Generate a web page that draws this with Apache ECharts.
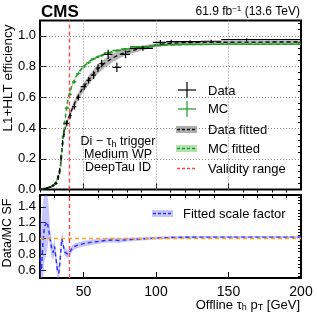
<!DOCTYPE html>
<html><head><meta charset="utf-8">
<script src="https://cdn.jsdelivr.net/npm/echarts@6/dist/echarts.min.js"></script>
<style>html,body{margin:0;padding:0;background:#fff}#c{width:317px;height:317px}</style>
</head><body><div id="c"></div>
<script>
// ---- data ----
const fitX = [20,22,24,26,28,30,31,32,33,34,35,36,37,38,39,40,42,44,46,48,50,55,60,65,70,75,80,90,100,110,120,140,160,180,200];
const dataFit = [0.0,0.003,0.006,0.012,0.02,0.035,0.05,0.07,0.1,0.15,0.25,0.34,0.39,0.42,0.45,0.475,0.52,0.565,0.6,0.635,0.665,0.73,0.785,0.825,0.855,0.88,0.895,0.92,0.94,0.952,0.956,0.958,0.959,0.96,0.96];
const dataFitErr = [0.002,0.002,0.003,0.004,0.005,0.006,0.007,0.008,0.01,0.012,0.015,0.015,0.015,0.015,0.016,0.017,0.018,0.02,0.024,0.027,0.028,0.03,0.03,0.03,0.027,0.024,0.02,0.015,0.012,0.009,0.008,0.007,0.007,0.007,0.007];
const mcFit = [0.0,0.004,0.007,0.013,0.02,0.032,0.042,0.06,0.085,0.13,0.22,0.34,0.43,0.51,0.57,0.615,0.675,0.72,0.752,0.778,0.8,0.84,0.865,0.883,0.897,0.907,0.915,0.927,0.936,0.941,0.943,0.945,0.945,0.945,0.945];
const mcFitErr = [0.002,0.002,0.003,0.003,0.004,0.004,0.005,0.006,0.007,0.008,0.01,0.01,0.01,0.01,0.01,0.01,0.01,0.01,0.01,0.01,0.009,0.009,0.008,0.008,0.008,0.007,0.007,0.006,0.006,0.005,0.005,0.005,0.005,0.005,0.005];

const ptX   = [21,23,25,27,29,31,32.5,33.5,34.5,35.5,36.5,38.5,40.8,43.8,46.5,50.5,53.5,57,60,62.5,67,73,79,91,103,110.5,123.5,138,162.5];
const ptLo  = [20,22,24,26,28,30,32,33,34,35,36,37,40,42,45,48,52,55,58.5,61,64,70,76,82,98,107,116,131,145];
const ptHi  = [22,24,26,28,30,32,33,34,35,36,37,40,42,45,48,52,55,58.5,61,64,70,76,82,98,107,116,131,145,200];
const dataY = [0.002,0.005,0.01,0.015,0.025,0.04,0.08,0.12,0.2,0.3,0.36,0.43,0.48,0.54,0.6,0.67,0.71,0.745,0.79,0.82,0.88,0.795,0.88,0.918,0.958,0.962,0.962,0.965,0.975];
const dataYErr = [0.004,0.004,0.005,0.005,0.008,0.01,0.015,0.02,0.02,0.02,0.02,0.02,0.02,0.02,0.02,0.02,0.02,0.025,0.025,0.025,0.03,0.03,0.025,0.015,0.015,0.012,0.01,0.01,0.01];
const mcY   = [0.003,0.007,0.012,0.018,0.027,0.04,0.07,0.12,0.22,0.34,0.43,0.53,0.62,0.7,0.755,0.8,0.825,0.85,0.862,0.872,0.89,0.905,0.915,0.93,0.94,0.943,0.944,0.945,0.946];
const mcYErr = [0.004,0.004,0.004,0.004,0.005,0.005,0.006,0.008,0.01,0.01,0.01,0.01,0.01,0.01,0.008,0.008,0.008,0.008,0.008,0.008,0.006,0.006,0.006,0.005,0.005,0.005,0.005,0.005,0.005];

const sfX   = [20,21,22,23,25,26,27,28,29,30,31,32,33,34,35,35.5,36,37,38,39,40,41,42,44,46,48,50,55,60,65,70,75,80,90,100,110,120,140,160,200];
const sfY   = [0.75,0.6,0.95,1.15,1.21,1.2,1.0,0.87,0.82,0.9,0.75,0.6,0.56,0.75,1.0,1.0,0.92,0.83,0.82,0.8,0.81,0.84,0.87,0.9,0.915,0.925,0.935,0.95,0.962,0.975,0.98,0.975,0.985,0.995,1.005,1.012,1.016,1.017,1.017,1.017];
const sfErr = [0.6,0.6,0.5,0.45,0.35,0.2,0.12,0.1,0.1,0.09,0.09,0.09,0.08,0.08,0.07,0.07,0.06,0.05,0.05,0.05,0.045,0.04,0.04,0.035,0.035,0.035,0.035,0.035,0.03,0.03,0.03,0.03,0.025,0.02,0.018,0.015,0.015,0.015,0.015,0.015];

const validityX = 40;
const sfRef = 1.0;
const xMajor = [50,100,150,200];
const xMinor = [20,30,40,60,70,80,90,110,120,130,140,160,170,180,190];
const yTopMajor = [0,0.2,0.4,0.6,0.8,1.0];
const yTopMinor = [0.04,0.08,0.12,0.16,0.24,0.28,0.32,0.36,0.44,0.48,0.52,0.56,0.64,0.68,0.72,0.76,0.84,0.88,0.92,0.96,1.04,1.08];
const yBotMajor = [0.6,0.8,1.0,1.2,1.4];
const yBotMinor = [0.52,0.56,0.64,0.68,0.72,0.76,0.84,0.88,0.92,0.96,1.04,1.08,1.12,1.16,1.24,1.28,1.32,1.36,1.44,1.48,1.52];
const xGrid = [50,100,150];
const yGrid = [0.2,0.4,0.6,0.8,1.0];

// ---- chart ----
const FONT = '"Liberation Sans", Arial, Helvetica, sans-serif';
const chart = echarts.init(document.getElementById('c'), null, {renderer:'canvas'});

function bandSeries(name, xs, ys, es, fill, xi, yi, z){
  return {
    name, type:'custom', xAxisIndex:xi, yAxisIndex:yi, z, clip:true, silent:true,
    data:[0],
    renderItem(params, api){
      const pts = [];
      for (let i=0;i<xs.length;i++) pts.push(api.coord([xs[i], ys[i]+es[i]]));
      for (let i=xs.length-1;i>=0;i--) pts.push(api.coord([xs[i], ys[i]-es[i]]));
      return {type:'polygon', shape:{points:pts}, style:{fill, stroke:null}};
    }
  };
}
function pointSeries(name, xs, lo, hi, ys, es, color, xi, yi, z){
  return {
    name, type:'custom', xAxisIndex:xi, yAxisIndex:yi, z, clip:true, silent:true,
    data: xs.map((x,i)=>[x, ys[i], lo[i], hi[i], es[i]]),
    renderItem(params, api){
      const x=api.value(0), y=api.value(1), l=api.value(2), h=api.value(3), e=api.value(4);
      const a=api.coord([l,y]), b=api.coord([h,y]), c=api.coord([x,y-e]), d=api.coord([x,y+e]);
      return {type:'group', children:[
        {type:'line', shape:{x1:a[0],y1:a[1],x2:b[0],y2:b[1]}, style:{stroke:color, lineWidth:1.2}},
        {type:'line', shape:{x1:c[0],y1:c[1],x2:d[0],y2:d[1]}, style:{stroke:color, lineWidth:1.2}}
      ]};
    }
  };
}
function lineSeries(name, xs, ys, color, xi, yi, z, w){
  return {name, type:'line', xAxisIndex:xi, yAxisIndex:yi, z, silent:true, symbol:'none',
    data: xs.map((x,i)=>[x, ys[i]]),
    lineStyle:{color, width:w||1.3, type:[4,3]}};
}

const tickStyle = {color:'#000', width:1};
function xAx(grid, ticks, len, labels){
  return {gridIndex:grid, type:'value', min:20, max:200,
    axisLine:{show:false}, splitLine:{show:false},
    axisTick:{inside:true, length:len, customValues:ticks, lineStyle:tickStyle},
    axisLabel: labels ? {customValues:ticks, margin:7, fontSize:14, color:'#000', fontFamily:FONT} : {show:false}};
}
function yAx(grid, min, max, ticks, len, labels){
  return {gridIndex:grid, type:'value', min, max,
    axisLine:{show:false}, splitLine:{show:false},
    axisTick:{inside:true, length:len, customValues:ticks, lineStyle:tickStyle},
    axisLabel: labels ? {customValues:ticks, margin:4, fontSize:13, color:'#000', fontFamily:FONT, formatter:v=>v.toFixed(1)} : {show:false}};
}

const gridLineData = xGrid.map(v=>({xAxis:v})).concat(yGrid.map(v=>({yAxis:v})));

const option = {
  animation:false,
  grid:[
    {left:40, top:20.5, width:261, height:169, show:true, borderColor:'#000', borderWidth:2, backgroundColor:'transparent'},
    {left:40, top:195, width:261, height:83, show:true, borderColor:'#000', borderWidth:2, backgroundColor:'transparent'}
  ],
  xAxis:[ xAx(0,xMajor,6,false), xAx(0,xMinor,3,false), xAx(1,xMajor,6,true), xAx(1,xMinor,3,false) ],
  yAxis:[ yAx(0,0,1.1,yTopMajor,6,true), yAx(0,0,1.1,yTopMinor,3,false), yAx(1,0.5,1.55,yBotMajor,6,true), yAx(1,0.5,1.55,yBotMinor,3,false) ],
  series:[
    {type:'line', xAxisIndex:0, yAxisIndex:0, data:[], z:1, silent:true,
      markLine:{silent:true, symbol:'none', label:{show:false}, animation:false,
        lineStyle:{color:'#888', width:1, type:[1,2]}, data:gridLineData}},
    bandSeries('dataBand', fitX, dataFit, dataFitErr, 'rgba(120,120,120,0.55)', 0, 0, 2),
    bandSeries('mcBand', fitX, mcFit, mcFitErr, 'rgba(40,170,40,0.35)', 0, 0, 2),
    lineSeries('Data fitted', fitX, dataFit, '#000', 0, 0, 3),
    lineSeries('MC fitted', fitX, mcFit, '#1f9a1f', 0, 0, 3, 1.5),
    pointSeries('MC', ptX, ptLo, ptHi, mcY, mcYErr, '#1f9a1f', 0, 0, 4),
    pointSeries('Data', ptX, ptLo, ptHi, dataY, dataYErr, '#000', 0, 0, 5),
    {type:'line', xAxisIndex:0, yAxisIndex:0, data:[], z:6, silent:true,
      markLine:{silent:true, symbol:'none', label:{show:false}, animation:false,
        lineStyle:{color:'#ff4545', width:1.4, type:[4,3]}, data:[{xAxis:validityX}]}},
    bandSeries('sfBand', sfX, sfY, sfErr, 'rgba(110,110,255,0.4)', 2, 2, 2),
    {type:'line', xAxisIndex:2, yAxisIndex:2, data:[], z:3, silent:true,
      markLine:{silent:true, symbol:'none', label:{show:false}, animation:false,
        lineStyle:{color:'#ffa520', width:1.3, type:[4,3]}, data:[{yAxis:sfRef}]}},
    lineSeries('Fitted scale factor', sfX, sfY, '#2a2aff', 2, 2, 4, 1.4),
    {type:'line', xAxisIndex:2, yAxisIndex:2, data:[], z:6, silent:true,
      markLine:{silent:true, symbol:'none', label:{show:false}, animation:false,
        lineStyle:{color:'#ff4545', width:1.4, type:[4,3]}, data:[{xAxis:validityX}]}}
  ],
  graphic:[
    {type:'text', x:41, y:12, style:{text:'CMS', font:'bold 17px '+FONT, fill:'#000', verticalAlign:'middle', align:'left'}},
    {type:'text', x:300, y:12, style:{text:'61.9 fb{sup|−1} (13.6 TeV)', font:'12px '+FONT, fill:'#000', align:'right', verticalAlign:'middle',
      rich:{sup:{fontSize:8, fontFamily:FONT, verticalAlign:'top', padding:[0,0,6,0]}}}},
    {type:'text', x:8, y:78, rotation:Math.PI/2, style:{text:'L1+HLT efficiency', font:'13.5px '+FONT, fill:'#000', align:'center', verticalAlign:'middle'}},
    {type:'text', x:8, y:233, rotation:Math.PI/2, style:{text:'Data/MC SF', font:'12.5px '+FONT, fill:'#000', align:'center', verticalAlign:'middle'}},
    {type:'text', x:300, y:305, style:{text:'Offline τ{sub|h} p{sub|T} [GeV]', font:'13px '+FONT, fill:'#000', align:'right', verticalAlign:'middle',
      rich:{sub:{fontSize:9, fontFamily:FONT, padding:[5,0,0,0]}}}},
    {type:'text', x:118, y:142, style:{text:'Di − τ{sub|h} trigger', font:'12.5px '+FONT, fill:'#000', align:'center', verticalAlign:'middle',
      rich:{sub:{fontSize:9, fontFamily:FONT, padding:[5,0,0,0]}}}},
    {type:'text', x:118, y:155, style:{text:'Medium WP', font:'12.5px '+FONT, fill:'#000', align:'center', verticalAlign:'middle'}},
    {type:'text', x:118, y:167.5, style:{text:'DeepTau ID', font:'12.5px '+FONT, fill:'#000', align:'center', verticalAlign:'middle'}},
    // legend top
    {type:'line', shape:{x1:178,y1:90,x2:196,y2:90}, style:{stroke:'#000', lineWidth:1.2}},
    {type:'line', shape:{x1:187,y1:82,x2:187,y2:98}, style:{stroke:'#000', lineWidth:1.2}},
    {type:'text', x:208, y:91, style:{text:'Data', font:'13px '+FONT, fill:'#000', verticalAlign:'middle'}},
    {type:'line', shape:{x1:178,y1:109,x2:196,y2:109}, style:{stroke:'#1f9a1f', lineWidth:1.2}},
    {type:'line', shape:{x1:187,y1:101,x2:187,y2:117}, style:{stroke:'#1f9a1f', lineWidth:1.2}},
    {type:'text', x:208, y:109, style:{text:'MC', font:'13px '+FONT, fill:'#000', verticalAlign:'middle'}},
    {type:'rect', shape:{x:176,y:126,width:21,height:7}, style:{fill:'rgba(120,120,120,0.6)'}},
    {type:'line', shape:{x1:177,y1:129.5,x2:196,y2:129.5}, style:{stroke:'#000', lineWidth:1.3, lineDash:[3,2]}},
    {type:'text', x:208, y:130, style:{text:'Data fitted', font:'13px '+FONT, fill:'#000', verticalAlign:'middle'}},
    {type:'rect', shape:{x:176,y:145,width:21,height:7}, style:{fill:'rgba(40,170,40,0.35)'}},
    {type:'line', shape:{x1:177,y1:148.5,x2:196,y2:148.5}, style:{stroke:'#1f9a1f', lineWidth:1.3, lineDash:[3,2]}},
    {type:'text', x:208, y:149, style:{text:'MC fitted', font:'13px '+FONT, fill:'#000', verticalAlign:'middle'}},
    {type:'line', shape:{x1:177,y1:168.5,x2:196,y2:168.5}, style:{stroke:'#ff4545', lineWidth:1.3, lineDash:[3,2]}},
    {type:'text', x:208, y:169, style:{text:'Validity range', font:'13px '+FONT, fill:'#000', verticalAlign:'middle'}},
    // legend bottom
    {type:'rect', shape:{x:152,y:210,width:21,height:7}, style:{fill:'rgba(110,110,255,0.4)'}},
    {type:'line', shape:{x1:153,y1:213.5,x2:172,y2:213.5}, style:{stroke:'#2a2aff', lineWidth:1.3, lineDash:[3,2]}},
    {type:'text', x:183, y:214, style:{text:'Fitted scale factor', font:'13px '+FONT, fill:'#000', verticalAlign:'middle'}}
  ]
};
chart.setOption(option);
</script>
</body></html>
